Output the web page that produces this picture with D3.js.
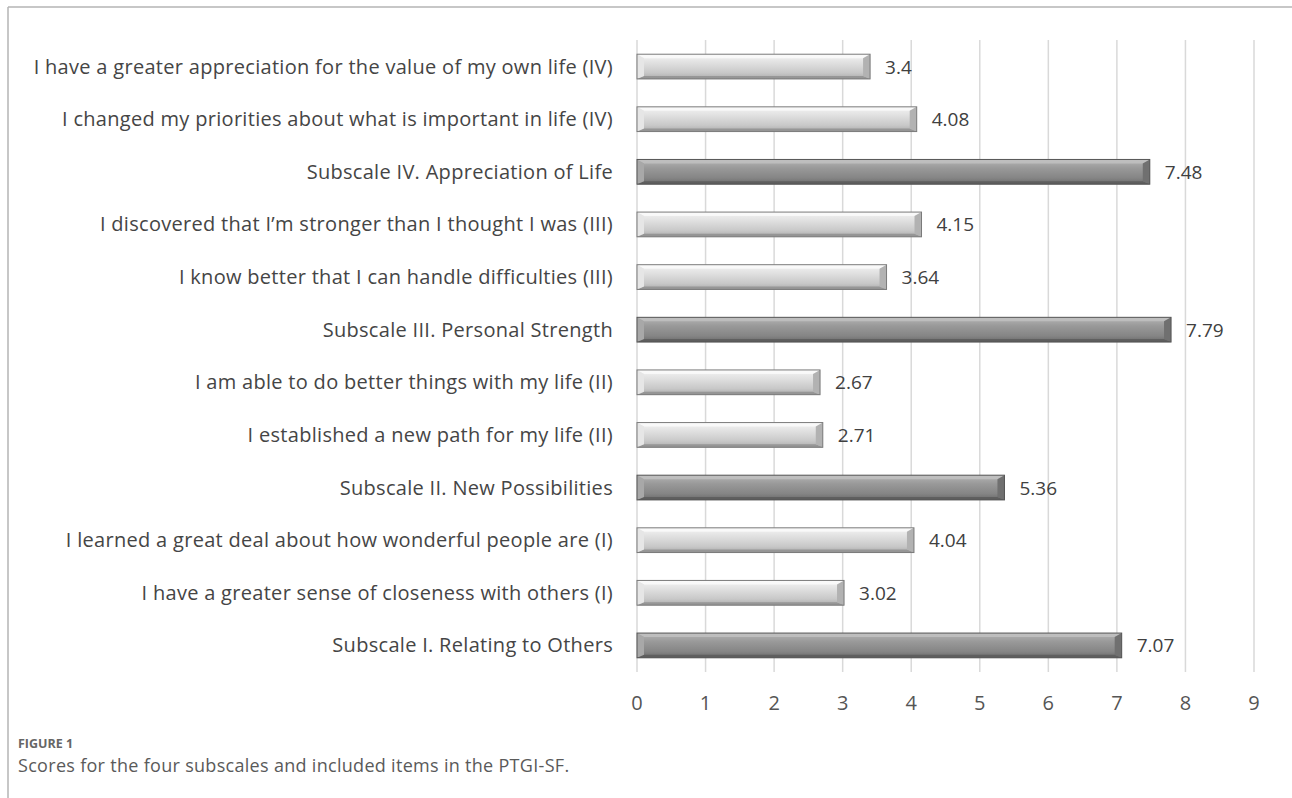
<!DOCTYPE html>
<html>
<head>
<meta charset="utf-8">
<title>PTGI-SF</title>
<script src="https://cdnjs.cloudflare.com/ajax/libs/d3/7.8.5/d3.min.js"></script>
<style>
  body { margin: 0; background: #fff; }
  svg text { font-family: "Open Sans", "Noto Sans", sans-serif; }
</style>
</head>
<body>
<svg id="chart" width="1292" height="798"></svg>
<script>
// categories top to bottom, as they appear in the figure
var labels = [
  "I have a greater appreciation for the value of my own life (IV)",
  "I changed my priorities about what is important in life (IV)",
  "Subscale IV. Appreciation of Life",
  "I discovered that I\u2019m stronger than I thought I was (III)",
  "I know better that I can handle difficulties (III)",
  "Subscale III. Personal Strength",
  "I am able to do better things with my life (II)",
  "I established a new path for my life (II)",
  "Subscale II. New Possibilities",
  "I learned a great deal about how wonderful people are (I)",
  "I have a greater sense of closeness with others (I)",
  "Subscale I. Relating to Others"
];
var scores = [3.4, 4.08, 7.48, 4.15, 3.64, 7.79, 2.67, 2.71, 5.36, 4.04, 3.02, 7.07];
var xTicks = [0, 1, 2, 3, 4, 5, 6, 7, 8, 9];

var svg = d3.select("#chart");

// frame of the figure panel
svg.append("line").attr("x1", 8).attr("y1", 7).attr("x2", 1292).attr("y2", 7)
   .attr("stroke", "#b4b4b4").attr("stroke-width", 1.5);
svg.append("line").attr("x1", 8).attr("y1", 7).attr("x2", 8).attr("y2", 798)
   .attr("stroke", "#b4b4b4").attr("stroke-width", 1.5);

var x = d3.scaleLinear().domain([0, 9]).range([637, 1254]);
var y = d3.scaleBand().domain(labels).range([40, 672]).paddingInner(0.53).paddingOuter(0.27);

// gradients
var defs = svg.append("defs");
function grad(id, stops) {
  var g = defs.append("linearGradient").attr("id", id)
    .attr("x1", 0).attr("y1", 0).attr("x2", 0).attr("y2", 1);
  stops.forEach(function(s) {
    g.append("stop").attr("offset", s[0]).attr("stop-color", s[1]);
  });
}
grad("lightG", [[0, "#f4f4f4"], [0.35, "#e0e0e0"], [0.75, "#c8c8c8"], [1, "#ababab"]]);
grad("darkG", [[0, "#b4b4b4"], [0.35, "#999"], [0.75, "#858585"], [1, "#6a6a6a"]]);

// grid lines
svg.append("g").selectAll("line").data(xTicks).enter().append("line")
  .attr("x1", d => x(d)).attr("x2", d => x(d))
  .attr("y1", 40).attr("y2", 672)
  .attr("stroke", "#d9d9d9").attr("stroke-width", 1.5);

// tick labels
svg.append("g").selectAll("text").data(xTicks).enter().append("text")
  .attr("x", d => x(d)).attr("y", 710)
  .attr("text-anchor", "middle")
  .attr("font-size", 20).attr("fill", "#555")
  .text(d => d);

// category labels
svg.append("g").selectAll("text").data(labels).enter().append("text")
  .attr("x", 613).attr("y", d => y(d) + y.bandwidth() / 2 + 7)
  .attr("text-anchor", "end")
  .attr("font-size", 20).attr("letter-spacing", 0.3).attr("fill", "#454545")
  .text(d => d);

// bevelled bars
var bars = svg.append("g").selectAll("g").data(labels).enter().append("g");
bars.each(function(d, i) {
  var g = d3.select(this);
  var sub = d.indexOf("Subscale") === 0;
  var x0 = x(0), x1 = x(scores[i]);
  var y0 = y(d), h = y.bandwidth(), y1 = y0 + h;
  var b = 7;
  g.append("rect").attr("x", x0).attr("y", y0).attr("width", x1 - x0).attr("height", h)
    .attr("fill", sub ? "url(#darkG)" : "url(#lightG)");
  // top bevel
  g.append("polygon")
    .attr("points", [[x0, y0], [x1, y0], [x1 - b, y0 + 4], [x0 + b, y0 + 4]].join(" "))
    .attr("fill", sub ? "#c2c2c2" : "#fbfbfb").attr("opacity", 0.8);
  // bottom bevel
  g.append("polygon")
    .attr("points", [[x0, y1], [x1, y1], [x1 - b, y1 - 3], [x0 + b, y1 - 3]].join(" "))
    .attr("fill", sub ? "#5a5a5a" : "#8f8f8f").attr("opacity", 0.8);
  // left end
  g.append("polygon")
    .attr("points", [[x0, y0], [x0 + b, y0 + 4], [x0 + b, y1 - 3], [x0, y1]].join(" "))
    .attr("fill", sub ? "#a8a8a8" : "#e6e6e6");
  // right end
  g.append("polygon")
    .attr("points", [[x1, y0], [x1 - b, y0 + 4], [x1 - b, y1 - 3], [x1, y1]].join(" "))
    .attr("fill", sub ? "#707070" : "#b2b2b2");
  g.append("rect").attr("x", x0).attr("y", y0).attr("width", x1 - x0).attr("height", h)
    .attr("fill", "none").attr("stroke", sub ? "#555" : "#7a7a7a").attr("stroke-width", 1);
});

// value labels
svg.append("g").selectAll("text").data(labels).enter().append("text")
  .attr("x", (d, i) => x(scores[i]) + 15)
  .attr("y", d => y(d) + y.bandwidth() / 2 + 7)
  .attr("font-size", 19).attr("fill", "#404040")
  .text((d, i) => scores[i]);

// caption
svg.append("text").attr("x", 18).attr("y", 748)
  .attr("font-size", 12.5).attr("font-weight", "bold").attr("fill", "#666")
  .text("FIGURE 1");
svg.append("text").attr("x", 18).attr("y", 772)
  .attr("font-size", 18).attr("letter-spacing", 0.3).attr("fill", "#5a5a5a")
  .text("Scores for the four subscales and included items in the PTGI-SF.");
</script>
</body>
</html>
